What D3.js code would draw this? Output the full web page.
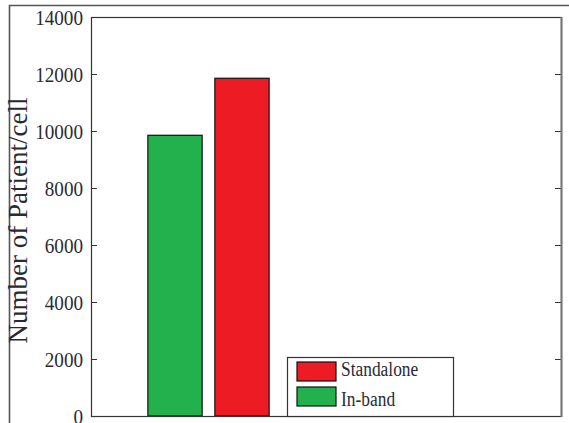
<!DOCTYPE html>
<html>
<head>
<meta charset="utf-8">
<script src="https://cdn.jsdelivr.net/npm/d3@7"></script>
<style>
  html, body { margin: 0; padding: 0; background: #fff; }
  svg { display: block; }
  text { font-family: "Liberation Serif", "Times New Roman", serif; fill: #2a2a35; }
</style>
</head>
<body>
<svg id="chart" width="569" height="423"></svg>
<script>
// Patients served per cell, by deployment mode
const series = ["In-band", "Standalone"];
const values = [9850, 11850];
const colors = ["#22b14c", "#ed1c24"];
const legendOrder = ["Standalone", "In-band"];
const yTicks = [0, 2000, 4000, 6000, 8000, 10000, 12000, 14000];
const yLabel = "Number of Patient/cell";

const svg = d3.select("#chart");
const W = 569, H = 423;
const plot = { left: 91, right: 561, top: 17, bottom: 416 };

// outer figure frame
svg.append("path")
  .attr("d", `M9.5,${H} L9.5,5.5 L${W},5.5`)
  .attr("fill", "none").attr("stroke", "#555").attr("stroke-width", 1.6);

const y = d3.scaleLinear().domain([0, 14000]).range([plot.bottom, plot.top]);
const x = d3.scaleLinear().domain([0.5, 2.5]).range([plot.left, plot.right]);

// bars of the single group at x = 1
const groupHalf = 0.258;
const xb = d3.scaleBand().domain(series)
  .range([x(1 - groupHalf), x(1 + groupHalf)])
  .paddingInner(0.19);

svg.append("g").selectAll("rect")
  .data(series.map((s, i) => ({ s, v: values[i], c: colors[i] })))
  .join("rect")
  .attr("x", d => xb(d.s))
  .attr("y", d => y(d.v))
  .attr("width", xb.bandwidth())
  .attr("height", d => y(0) - y(d.v))
  .attr("fill", d => d.c)
  .attr("stroke", "#111").attr("stroke-width", 1.2);

// left axis, ticks inside
const yAxis = d3.axisLeft(y).tickValues(yTicks).tickSize(-6).tickFormat(d3.format("d"));
const gy = svg.append("g").attr("transform", `translate(${plot.left},0)`).call(yAxis);
gy.select(".domain").remove();
gy.selectAll(".tick line").attr("stroke", "#333");
gy.selectAll(".tick text")
  .attr("font-size", 22)
  .attr("fill", "#2a2a35")
  .attr("transform", "scale(0.87,1)")
  .attr("x", -8 / 0.87);

// right side ticks
const yAxisR = d3.axisRight(y).tickValues(yTicks).tickSize(-6).tickFormat("");
const gr = svg.append("g").attr("transform", `translate(${plot.right},0)`).call(yAxisR);
gr.select(".domain").remove();
gr.selectAll(".tick line").attr("stroke", "#333");

// plot box
svg.append("rect")
  .attr("x", plot.left + 0.5).attr("y", plot.top + 0.5)
  .attr("width", plot.right - plot.left).attr("height", plot.bottom - plot.top)
  .attr("fill", "none").attr("stroke", "#333").attr("stroke-width", 1.2);
svg.append("line")
  .attr("x1", plot.right + 0.5).attr("x2", plot.right + 0.5)
  .attr("y1", plot.top).attr("y2", plot.bottom + 1)
  .attr("stroke", "#777").attr("stroke-width", 2);

// y axis title
svg.append("text")
  .attr("transform", `translate(27,${(plot.top + plot.bottom) / 2 + 4}) rotate(-90)`)
  .attr("text-anchor", "middle")
  .attr("font-size", 27)
  .text(yLabel);

// legend
const lg = svg.append("g").attr("transform", "translate(287,357)");
lg.append("rect").attr("x", 0.5).attr("y", 0.5).attr("width", 166).attr("height", 59)
  .attr("fill", "#fff").attr("stroke", "#333").attr("stroke-width", 1.2);
const entries = lg.selectAll("g.entry")
  .data(legendOrder.map(s => ({ s, c: colors[series.indexOf(s)] })))
  .join("g").attr("class", "entry")
  .attr("transform", (d, i) => `translate(10,${5 + i * 25})`);
entries.append("rect").attr("width", 39).attr("height", 19)
  .attr("fill", d => d.c).attr("stroke", "#111").attr("stroke-width", 1.2);
entries.append("text")
  .attr("transform", (d, i) => `translate(44,${14 + i * 5}) scale(0.87,1)`)
  .attr("font-size", 20)
  .text(d => d.s);
</script>
</body>
</html>
